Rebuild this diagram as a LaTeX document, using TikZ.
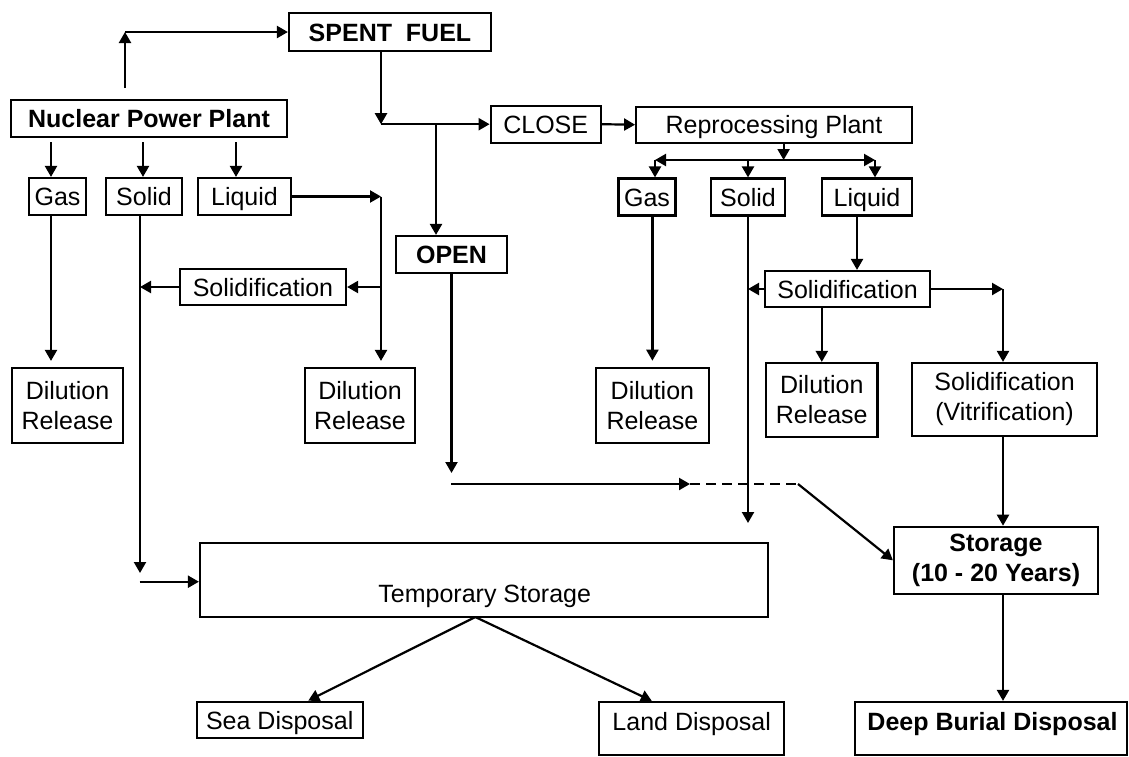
\documentclass[tikz,border=0pt]{standalone}
\usepackage{fontspec}
\setmainfont{Liberation Sans}
\usetikzlibrary{arrows.meta,calc}
\newcommand{\dfont}{\fontsize{25}{30}\selectfont}
\begin{document}
\begin{tikzpicture}[x=1pt,y=-1pt,
  box/.style={draw, line width=2.2pt, inner sep=0pt, align=center, font=\dfont, minimum height=37pt},
  one/.style={text height=18pt, text depth=0pt},
  bbox/.style={box, font=\dfont\bfseries},
  txt/.style={inner sep=0pt, align=center, font=\dfont, text height=18pt, text depth=0pt},
  btxt/.style={txt, font=\dfont\bfseries},
  ln/.style={line width=2.2pt},
  arr/.style={line width=2.2pt, -{Triangle[length=11pt,width=12pt]}},
  arrg/.style={arr, shorten >=6pt}]
\useasboundingbox (0,0) rectangle (1129,756);

% nodes
\node[bbox, one, minimum width=202pt, minimum height=38pt] (sf) at (390,32) {SPENT\ \ FUEL};
\node[bbox, one, minimum width=276pt] (npp) at (149,118.5) {Nuclear Power Plant};
\node[box, one, minimum width=110pt] (close) at (545.7,124.2) {CLOSE};
\node[box, one, minimum width=275.6pt, minimum height=36pt] (rp) at (774,124.7) {Reprocessing Plant};
\node[bbox, one, minimum width=111pt] (open) at (451.5,254.5) {OPEN};
\node[box, one, minimum width=57pt] (gas1) at (57.5,196.5) {Gas};
\node[box, one, minimum width=76pt] (solid1) at (144,196.5) {Solid};
\node[box, one, minimum width=93pt] (liquid1) at (244.5,196.5) {Liquid};
\node[box, one, minimum width=166pt, minimum height=36pt] (sol1) at (263,287) {Solidification};
\node[box, minimum width=111pt, minimum height=75pt] (dr1) at (67.5,405.5) {Dilution\\Release};
\node[box, minimum width=110pt, minimum height=75pt] (dr2) at (360,405.5) {Dilution\\Release};
\node[box, one, minimum width=57pt] (gas2) at (647,197) {Gas};
\node[box, one, minimum width=74pt] (solid2) at (748,197) {Solid};
\node[box, one, minimum width=90pt] (liquid2) at (867,197) {Liquid};
\node[box, one, minimum width=165pt, minimum height=36pt] (sol2) at (847.5,289) {Solidification};
\node[box, minimum width=113pt, minimum height=75pt] (dr3) at (652.4,405.3) {Dilution\\Release};
\node[box, minimum width=111.5pt, minimum height=74pt] (dr4) at (821.8,400) {Dilution\\Release};
\node[box, minimum width=185pt, minimum height=73pt] (vit) at (1004.5,399.5) {Solidification\\(Vitrification)};
\node[bbox, minimum width=204pt, minimum height=67pt] (sto) at (996,560.3) {Storage\\(10 - 20 Years)};
\node[box, minimum width=272pt, minimum height=53pt] (db) at (991,728.5) {};
\node[btxt] (dbt) at (992.5,721.7) {Deep Burial Disposal};
\node[box, minimum width=568pt, minimum height=74pt] (ts) at (484,579.7) {};
\node[txt] (tst) at (484.7,593) {Temporary Storage};
\node[box, one, minimum width=166pt, minimum height=36.6pt] (sea) at (279.7,720) {Sea Disposal};
\node[box, minimum width=185pt, minimum height=53pt] (ld) at (691.6,728.5) {};
\node[txt] (ldt) at (691.7,721.7) {Land Disposal};

% coordinates
\coordinate (c1) at (125,88);
\coordinate (c2) at (125,32);
\coordinate (j1) at (381,124.2);
\coordinate (j2) at (436,124.2);
\coordinate (j3) at (783.6,160);
\coordinate (j4) at (655,160);
\coordinate (j5) at (875,160);
\coordinate (g1) at (51,142);
\coordinate (s1) at (143,142);
\coordinate (l1) at (236,142);
\coordinate (s1end) at (140,573);
\coordinate (s1h) at (139.6,581.7);
\coordinate (j6) at (381,196.5);
\coordinate (j7) at (381,287);
\coordinate (o1) at (451.5,473);
\coordinate (o2) at (451,484);
\coordinate (o3) at (690,484);
\coordinate (o4) at (798,484);
\coordinate (s2end) at (748,523);
\coordinate (l2) at (857,0);
\coordinate (j8) at (1003,289);
\coordinate (apex) at (475.3,617);

% connectors
\draw[arr] (c1) -- (c2);
\draw[arr] (c2) -- (sf.west);
\draw[arr] (sf.south -| j1) -- (j1);
\draw[arr] (j1) -- (close.west);
\draw[arr] (j2) -- (open.north -| j2);
\draw[arr] (close.east) -- (rp.west);
\draw[arr] (rp.south -| j3) -- (j3);
\draw[arr] (j3) -- (j4);
\draw[arr] (j3) -- (j5);
\draw[arr] (j4) -- (j4 |- gas2.north);
\draw[arr] (solid2.north |- j3) -- (solid2.north);
\draw[arr] (j5) -- (j5 |- liquid2.north);

\draw[arr] (g1) -- (g1 |- gas1.north);
\draw[arr] (s1) -- (s1 |- solid1.north);
\draw[arr] (l1) -- (l1 |- liquid1.north);

\draw[arrg] (gas1.south -| g1) -- (dr1.north -| g1);
\draw[arr] (solid1.south -| s1end) -- (s1end);
\draw[arr] (s1h) -- (s1h -| ts.west);
\draw[arr] (liquid1.east) -- (j6);
\draw[arrg] (j6) -- (dr2.north -| j6);
\draw[arr] (j7) -- (sol1.east);
\draw[arr] (sol1.west) -- (sol1.west -| s1end);

\draw[arr] (open.south) -- (o1);
\draw[arr] (o2) -- (o3);
\draw[ln, dashed, dash pattern=on 10pt off 6pt] (o3) -- (o4);
\draw[arr] (o4) -- (sto.west);

\draw[arr] (solid2.south) -- (s2end);
\draw[arrg] (gas2.south -| dr3.north) -- (dr3.north);
\draw[arr] (liquid2.south -| l2) -- (sol2.north -| l2);
\draw[arr] (sol2.west) -- (sol2.west -| solid2.south);
\draw[arr] (sol2.east) -- (j8);
\draw[arr] (j8) -- (vit.north -| j8);
\draw[arr] (sol2.south -| dr4.north) -- (dr4.north);
\draw[arr] (vit.south -| j8) -- (sto.north -| j8);
\draw[arr] (sto.south -| j8) -- (db.north -| j8);

\draw[arr] (apex) -- ($(sea.north)+(28.6,0)$);
\draw[arr] (apex) -- ($(ld.north)+(-39.8,0)$);
\end{tikzpicture}
\end{document}
